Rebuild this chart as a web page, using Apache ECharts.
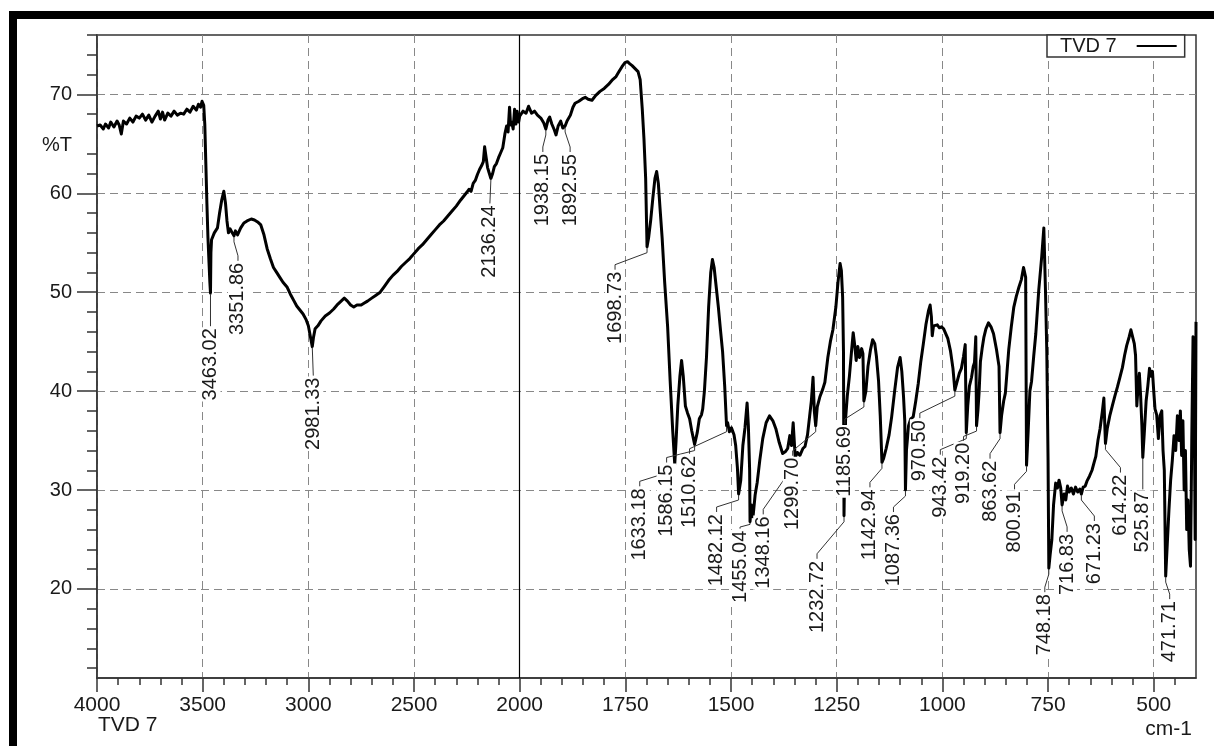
<!DOCTYPE html>
<html>
<head>
<meta charset="utf-8">
<title>TVD 7</title>
<script src="https://cdn.jsdelivr.net/npm/echarts@6/dist/echarts.min.js"></script>
<style>
  html, body { margin: 0; padding: 0; background: #fff; }
  #main { width: 1214px; height: 746px; }
</style>
</head>
<body>
<div id="main"></div>
<script>
// spectrum: [wavenumber cm-1, %T]
const spectrum = [
  [4000, 66.8], [3985, 66.9], [3970, 66.5], [3960, 67.0], [3945, 66.6], [3935, 67.2], [3920, 66.7],
  [3905, 67.3], [3895, 66.9], [3885, 66.0], [3875, 67.3], [3860, 67.0], [3845, 67.6], [3830, 67.2],
  [3815, 67.8], [3800, 67.6], [3785, 68.0], [3770, 67.4], [3755, 67.9], [3740, 67.2], [3725, 67.8],
  [3710, 68.3], [3700, 67.5], [3690, 68.2], [3680, 67.4], [3665, 68.1], [3650, 67.8], [3635, 68.3],
  [3620, 67.9], [3605, 68.1], [3590, 68.0], [3575, 68.5], [3560, 68.2], [3545, 68.8], [3530, 68.4],
  [3520, 69.0], [3510, 68.7], [3503, 69.3], [3495, 68.9], [3490, 67.0], [3485, 63.0], [3480, 59.0],
  [3475, 55.5], [3470, 53.0], [3466, 51.0], [3463.02, 49.9], [3461, 54.0], [3458, 55.3], [3450, 55.2],
  [3445, 56.0], [3440, 55.8], [3430, 56.5], [3420, 58.0], [3410, 59.3], [3400, 60.2], [3392, 59.0],
  [3385, 57.2], [3378, 56.0], [3370, 56.4], [3360, 56.0], [3351.86, 55.7], [3345, 56.2], [3335, 55.8],
  [3320, 56.5], [3305, 57.0], [3290, 57.2], [3270, 57.4], [3255, 57.3], [3240, 57.1], [3225, 56.8],
  [3210, 55.8], [3195, 54.4], [3180, 53.4], [3165, 52.5], [3150, 52.0], [3135, 51.5], [3120, 51.0],
  [3100, 50.5], [3085, 49.8], [3070, 49.2], [3055, 48.6], [3040, 48.2], [3025, 47.8], [3010, 47.2],
  [3000, 46.6], [2992, 45.7], [2985, 44.9], [2981.33, 44.5], [2976, 45.4], [2968, 46.3], [2955, 46.6],
  [2940, 47.1], [2920, 47.6], [2900, 47.9], [2880, 48.3], [2860, 48.8], [2845, 49.1], [2830, 49.4],
  [2815, 49.1], [2800, 48.7], [2785, 48.5], [2770, 48.7], [2750, 48.7], [2735, 48.9], [2720, 49.1],
  [2700, 49.4], [2680, 49.7], [2660, 50.0], [2640, 50.6], [2620, 51.2], [2600, 51.7], [2580, 52.1],
  [2560, 52.6], [2540, 53.0], [2520, 53.4], [2500, 53.9], [2480, 54.4], [2460, 54.8], [2440, 55.3],
  [2420, 55.8], [2400, 56.3], [2380, 56.8], [2360, 57.2], [2340, 57.7], [2320, 58.2], [2300, 58.7],
  [2280, 59.3], [2265, 59.7], [2250, 60.1], [2240, 60.4], [2230, 60.2], [2220, 61.0], [2210, 61.3],
  [2200, 61.9], [2190, 62.4], [2180, 62.8], [2172, 63.2], [2166, 64.7], [2160, 63.8], [2152, 62.6],
  [2145, 62.1], [2136.24, 61.5], [2128, 62.0], [2120, 62.7], [2110, 63.0], [2100, 63.6], [2090, 64.1],
  [2080, 64.6], [2070, 66.0], [2062, 66.8], [2055, 66.2], [2048, 68.7], [2043, 66.9], [2038, 67.2],
  [2031, 66.5], [2024, 68.5], [2018, 67.0], [2012, 68.3], [2005, 67.2], [2000, 67.8], [1992, 68.3],
  [1985, 68.1], [1979, 68.8], [1972, 68.1], [1965, 68.3], [1958, 67.9], [1950, 67.6], [1943, 67.1],
  [1938.15, 66.5], [1933, 67.4], [1929, 67.7], [1924, 67.0], [1918, 66.4], [1914, 65.9], [1909, 66.8],
  [1903, 67.3], [1898, 66.6], [1892.55, 66.8], [1888, 67.3], [1880, 67.9], [1874, 68.7], [1869, 69.1],
  [1860, 69.3], [1850, 69.6], [1845, 69.7], [1838, 69.5], [1829, 69.4], [1820, 69.9], [1810, 70.3],
  [1800, 70.6], [1790, 71.0], [1780, 71.5], [1772, 71.8], [1765, 72.3], [1758, 72.8], [1751, 73.2],
  [1745, 73.3], [1740, 73.1], [1734, 72.9], [1727, 72.6], [1720, 72.3], [1715, 71.5], [1710, 68.5],
  [1706, 65.5], [1702, 61.5], [1698.73, 54.6], [1695, 55.5], [1690, 57.3], [1685, 59.5], [1680, 61.5],
  [1676, 62.2], [1672, 61.0], [1668, 58.5], [1663, 55.5], [1657, 51.0], [1650, 46.5], [1644, 41.0],
  [1638, 36.0], [1633.18, 32.6], [1630, 35.0], [1626, 38.5], [1621, 41.5], [1617, 43.1], [1613, 41.5],
  [1608, 38.5], [1603, 37.8], [1598, 37.2], [1593, 36.0], [1586.15, 34.6], [1580, 35.8], [1575, 37.2],
  [1570, 37.6], [1567, 38.2], [1563, 40.0], [1558, 43.5], [1553, 48.5], [1548, 52.0], [1544, 53.3],
  [1540, 52.5], [1535, 50.5], [1530, 48.5], [1525, 46.2], [1520, 44.0], [1515, 40.5], [1510.62, 36.5],
  [1508, 36.8], [1504, 35.9], [1499, 36.3], [1493, 35.6], [1489, 34.5], [1485, 32.3], [1482.12, 29.6],
  [1477, 31.0], [1472, 34.5], [1467, 36.3], [1462, 38.8], [1459, 36.5], [1456, 32.0], [1455.04, 26.8],
  [1452, 28.5], [1448, 27.3], [1443, 29.5], [1438, 30.8], [1432, 33.0], [1425, 35.2], [1417, 36.8],
  [1409, 37.5], [1401, 37.0], [1394, 36.2], [1386, 34.8], [1378, 33.7], [1371, 33.9], [1366, 34.2],
  [1361, 35.5], [1357, 34.5], [1353, 36.8], [1348.16, 33.3], [1343, 33.8], [1337, 33.5], [1330, 34.2],
  [1325, 34.4], [1319, 35.6], [1314, 37.5], [1310, 39.0], [1306, 41.4], [1303, 38.0], [1299.7, 36.5],
  [1296, 38.4], [1290, 39.4], [1283, 40.2], [1278, 40.9], [1271, 43.4], [1265, 45.0], [1259, 46.2],
  [1252, 48.5], [1247, 51.0], [1242, 52.9], [1239, 52.2], [1236, 49.5], [1234, 44.0], [1232.72, 27.4],
  [1231, 33.0], [1229, 37.2], [1225, 39.5], [1220, 41.5], [1215, 44.0], [1211, 45.9], [1207, 44.5],
  [1204, 43.1], [1200, 44.5], [1196, 43.4], [1191, 44.3], [1188, 43.8], [1185.69, 39.0], [1181, 40.0],
  [1176, 42.5], [1170, 44.2], [1165, 45.2], [1160, 44.8], [1156, 43.5], [1151, 41.0], [1147, 37.5],
  [1142.94, 32.8], [1139, 33.2], [1133, 34.2], [1126, 35.6], [1120, 37.4], [1113, 40.0], [1106, 42.4],
  [1100, 43.4], [1096, 42.0], [1092, 39.5], [1089, 37.0], [1087.36, 30.0], [1085, 34.0], [1080, 36.5],
  [1075, 37.2], [1069, 37.4], [1063, 39.0], [1057, 40.8], [1051, 43.0], [1045, 44.8], [1039, 46.7],
  [1033, 48.1], [1029, 48.7], [1026, 47.5], [1024, 45.6], [1021, 46.6], [1017, 46.5], [1012, 46.7],
  [1007, 46.4], [1002, 46.5], [997, 46.3], [993, 46.1], [987, 45.3], [981, 44.1], [975, 42.3],
  [970.5, 40.1], [966, 40.3], [960, 41.8], [955, 42.3], [950, 43.5], [946, 44.7], [943.42, 35.8],
  [940, 38.5], [936, 40.5], [931, 41.4], [927, 42.5], [924, 42.9], [921, 45.5], [919.2, 36.5],
  [916, 38.0], [913, 40.0], [910, 43.0], [906, 44.3], [902, 45.4], [897, 46.3], [891, 46.9],
  [885, 46.5], [879, 45.8], [872, 44.2], [866, 42.5], [863.62, 35.8], [860, 37.5], [855, 39.0],
  [851, 39.8], [847, 42.0], [843, 44.2], [837, 46.5], [831, 48.5], [825, 49.6], [819, 50.5],
  [813, 51.3], [808, 52.5], [803, 51.5], [800.91, 32.5], [797, 36.0], [793, 40.0], [789, 41.0],
  [784, 43.5], [779, 45.8], [772, 50.2], [765, 53.6], [760, 56.5], [756, 50.0], [753, 44.0],
  [750, 33.0], [748.18, 22.1], [745, 23.5], [741, 25.0], [737, 28.5], [732, 30.7], [728, 30.2],
  [724, 31.0], [720, 30.2], [716.83, 28.5], [712, 29.6], [708, 29.0], [704, 30.4], [700, 29.8],
  [695, 30.2], [690, 29.6], [685, 30.3], [680, 29.8], [675, 30.1], [671.23, 29.6], [667, 30.3],
  [662, 30.4], [658, 30.9], [652, 31.4], [646, 32.0], [641, 32.8], [637, 33.4], [632, 35.0],
  [627, 36.2], [622, 37.8], [618, 39.3], [614.22, 34.7], [610, 36.2], [604, 37.5], [598, 38.5],
  [592, 39.5], [586, 40.4], [580, 41.4], [574, 42.4], [569, 43.6], [564, 44.6], [558, 45.5],
  [554, 46.2], [550, 46.0], [546, 44.8], [543, 43.6], [540, 38.5], [537, 40.5], [534, 41.8],
  [531, 39.5], [528, 36.5], [525.87, 33.3], [522, 36.0], [518, 39.0], [514, 40.5], [510, 42.3],
  [506, 41.5], [503, 42.0], [500, 40.0], [497, 38.2], [493, 37.6], [489, 35.2], [485, 37.5],
  [481, 38.0], [478, 34.0], [475, 32.0], [471.71, 21.3], [468, 24.5], [464, 28.0], [460, 31.0],
  [456, 33.0], [452, 35.5], [448, 34.0], [444, 37.5], [440, 35.0], [437, 38.0], [434, 33.5],
  [431, 37.0], [428, 30.0], [425, 34.0], [422, 26.0], [419, 29.0], [416, 24.0], [413, 22.3],
  [410, 35.0], [407, 45.5], [404, 38.0], [402, 25.0], [400, 47.0]
];

const peakWavenumbers = [3463.02, 3351.86, 2981.33, 2136.24, 1938.15, 1892.55, 1698.73, 1633.18,
  1586.15, 1510.62, 1482.12, 1455.04, 1348.16, 1299.70, 1232.72, 1185.69, 1142.94, 1087.36,
  970.50, 943.42, 919.20, 863.62, 800.91, 748.18, 716.83, 671.23, 614.22, 525.87, 471.71];
const peakT = [49.9, 55.7, 44.5, 61.5, 66.5, 66.8, 54.6, 32.6,
  34.6, 36.5, 29.6, 26.8, 33.3, 36.5, 27.4, 39.0, 32.8, 30.0,
  40.1, 35.8, 36.5, 35.8, 32.5, 22.1, 28.5, 29.6, 34.7, 33.3, 21.3];

const xLabelValues = [4000, 3500, 3000, 2500, 2000, 1750, 1500, 1250, 1000, 750, 500];
const xMinorValues = [3900, 3800, 3700, 3600, 3400, 3300, 3200, 3100, 2900, 2800, 2700, 2600,
  2400, 2300, 2200, 2100, 1950, 1900, 1850, 1800, 1700, 1650, 1600, 1550, 1450, 1400, 1350, 1300,
  1200, 1150, 1100, 1050, 950, 900, 850, 800, 700, 650, 600, 550, 450];
const yLabelValues = [20, 30, 40, 50, 60, 70];
const yMinorValues = [12, 14, 16, 18, 22, 24, 26, 28, 32, 34, 36, 38, 42, 44, 46, 48,
  52, 54, 56, 58, 62, 64, 68, 72, 74, 76];

// layout: label placement, px from each peak to the top end of its rotated text
const labelOffsets = [[0, 34], [4, 26], [1, 30], [-1, 26], [-3, 24], [5, 27], [-32, 24], [-35, 23],
  [-28, 19], [-37, 29], [-22, 19], [-10, 8], [-32, 58], [-23, 31], [-27, 44], [-19, 24], [-12, 26],
  [-12, 23], [-35, 29], [-26, 23], [-13, 16], [-10, 27], [-12, 25], [-4, 25], [5, 28], [13, 28],
  [15, 30], [0, 33], [4, 24]];

const FONT = '"Liberation Sans", Arial, sans-serif';
const INK = '#1a1a1a';

// the instrument draws 4000-2000 at half the scale used below 2000
function toAxis(w) { return w > 2000 ? 2000 + (w - 2000) / 2 : w; }
function fromAxis(u) { return u > 2000 ? 2000 + (u - 2000) * 2 : u; }

const chart = echarts.init(document.getElementById('main'));

const tickLine = { color: '#333', width: 1.5 };

const option = {
  animation: false,
  backgroundColor: '#fff',
  grid: {
    left: 97, right: 18, top: 35, bottom: 68,
    show: true, borderColor: '#333', borderWidth: 1.5
  },
  legend: {
    data: ['TVD 7'],
    left: 1047, top: 35,
    padding: [1, 8, 1, 13],
    align: 'right',
    icon: 'rect',
    itemWidth: 40, itemHeight: 2,
    borderColor: '#333', borderWidth: 1.5,
    backgroundColor: '#fff',
    textStyle: { fontSize: 20, fontFamily: FONT, color: INK, lineHeight: 20, padding: [0, 15, 0, 0] }
  },
  xAxis: [{
    type: 'value', min: 400, max: 3000, inverse: true, position: 'bottom',
    axisLine: { show: true, onZero: false, lineStyle: tickLine },
    axisTick: { show: true, customValues: xLabelValues.map(toAxis), length: 14, lineStyle: tickLine },
    axisLabel: {
      customValues: xLabelValues.map(toAxis),
      formatter: v => String(Math.round(fromAxis(v))),
      fontSize: 21, fontFamily: FONT, color: INK, margin: 17
    },
    splitLine: { show: true, lineStyle: { color: '#888', width: 1, type: [8, 5] } }
  }, {
    type: 'value', min: 400, max: 3000, inverse: true, position: 'bottom',
    axisLine: { show: false },
    axisTick: { show: true, customValues: xMinorValues.map(toAxis), length: 7, lineStyle: tickLine },
    axisLabel: { show: false },
    splitLine: { show: false }
  }],
  yAxis: [{
    type: 'value', min: 11, max: 76, position: 'left',
    axisLine: { show: true, onZero: false, lineStyle: tickLine },
    axisTick: { show: true, customValues: yLabelValues, length: 20, lineStyle: tickLine },
    axisLabel: { customValues: yLabelValues, fontSize: 20, fontFamily: FONT, color: INK, margin: 25 },
    splitLine: { show: true, lineStyle: { color: '#888', width: 1, type: [8, 5] } }
  }, {
    type: 'value', min: 11, max: 76, position: 'left',
    axisLine: { show: false },
    axisTick: { show: true, customValues: yMinorValues, length: 10, lineStyle: tickLine },
    axisLabel: { show: false },
    splitLine: { show: false }
  }],
  series: [{
    name: 'TVD 7',
    type: 'line',
    data: spectrum.map(p => [toAxis(p[0]), p[1]]),
    showSymbol: false,
    symbol: 'none',
    itemStyle: { color: '#000' },
    lineStyle: { color: '#000', width: 3, join: 'round' },
    z: 3,
    markLine: {
      silent: true,
      symbol: 'none',
      label: { show: false },
      lineStyle: { color: '#000', width: 1.2, type: 'solid' },
      data: [{ xAxis: toAxis(2000) }]
    }
  }, {
    name: 'peaks',
    type: 'custom',
    z: 4,
    clip: false,
    data: peakWavenumbers.map((w, i) => [toAxis(w), peakT[i], w]),
    renderItem: function (params, api) {
      const p = api.coord([api.value(0), api.value(1)]);
      const off = labelOffsets[params.dataIndex];
      const lx = p[0] + off[0];
      const ly = p[1] + off[1];
      const knee = Math.min(6, off[1] / 3);
      const pts = [[p[0], p[1] + 1]];
      if (Math.abs(off[0]) > 2) {
        pts.push([p[0], p[1] + knee]);
        pts.push([lx, ly - knee]);
      }
      pts.push([lx, ly - 1]);
      return {
        type: 'group',
        children: [{
          type: 'polyline',
          shape: { points: pts },
          style: { stroke: '#333', lineWidth: 1, fill: null }
        }, {
          type: 'text',
          x: lx, y: ly,
          rotation: Math.PI / 2,
          style: {
            text: api.value(2).toFixed(2),
            fill: INK,
            font: '20px ' + FONT,
            align: 'right',
            verticalAlign: 'middle',
            backgroundColor: '#fff',
            padding: [0, 1]
          }
        }]
      };
    }
  }],
  graphic: [
    { type: 'rect', shape: { x: 9, y: 11, width: 1205, height: 8 }, style: { fill: '#000' } },
    { type: 'rect', shape: { x: 9, y: 11, width: 8, height: 735 }, style: { fill: '#000' } },
    { type: 'text', x: 72, y: 145, style: { text: '%T', font: '20px ' + FONT, fill: INK, align: 'right', verticalAlign: 'middle' } },
    { type: 'text', x: 98, y: 725, style: { text: 'TVD 7', font: '21px ' + FONT, fill: INK, align: 'left', verticalAlign: 'middle' } },
    { type: 'text', x: 1192, y: 729, style: { text: 'cm-1', font: '21px ' + FONT, fill: INK, align: 'right', verticalAlign: 'middle' } }
  ]
};

chart.setOption(option);
</script>
</body>
</html>
